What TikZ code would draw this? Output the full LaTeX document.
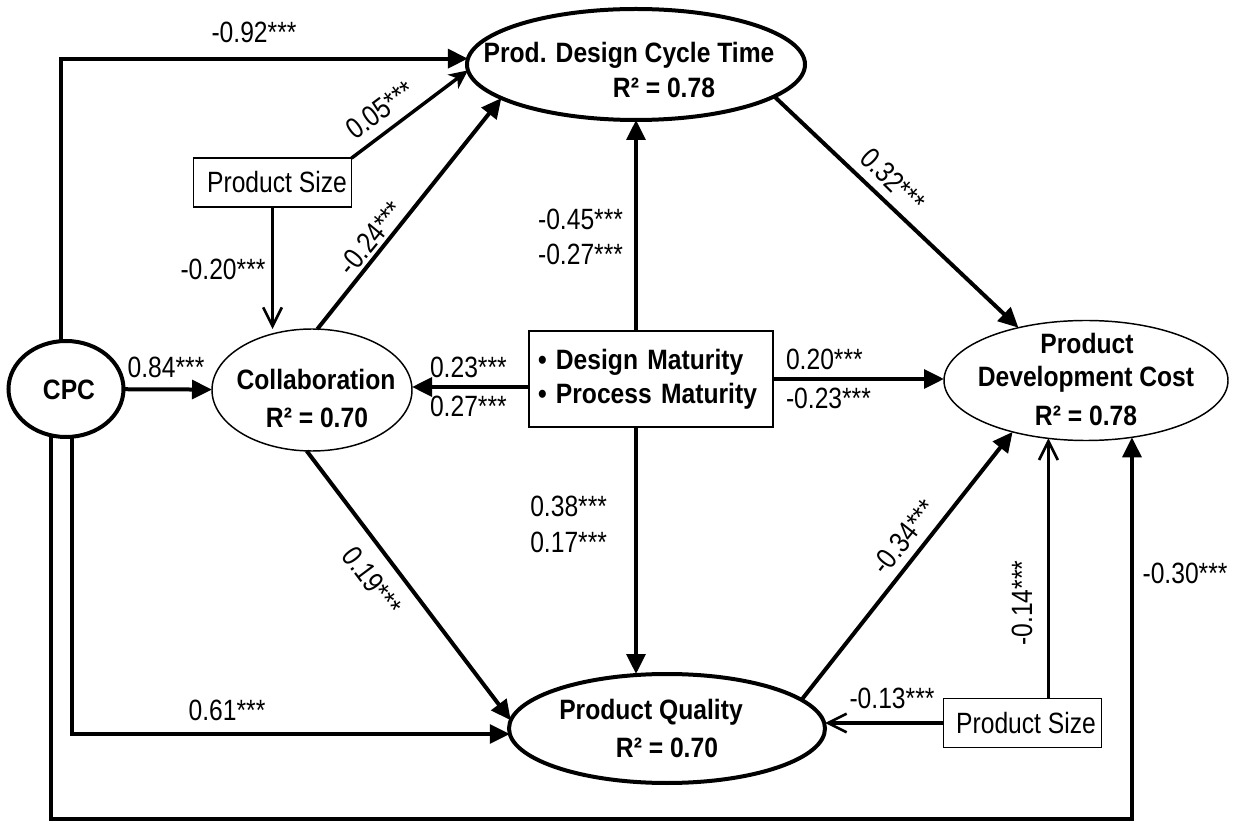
\documentclass[tikz,border=0pt]{standalone}
\usepackage{fontspec}
\setmainfont{Liberation Sans}[FakeStretch=0.84]
\newfontfamily\bfont{Liberation Sans}[FakeStretch=0.88]
\usetikzlibrary{arrows.meta,shapes.geometric,calc}
\begin{document}
\begin{tikzpicture}[x=0.75pt,y=-0.75pt,
  every node/.style={inner sep=0pt, outer sep=0pt},
  lbl/.style={font=\fontsize{22}{26}\selectfont},
  bt/.style={font=\bfont\bfseries\fontsize{21}{25.5}\selectfont},
  thickell/.style={ellipse, draw, line width=3pt},
  thinell/.style={ellipse, draw, line width=1.1pt},
  psbox/.style={rectangle, draw, line width=1.1pt, minimum width=118.5pt, minimum height=36.5pt, font=\fontsize{22}{26}\selectfont},
  arr/.style={line width=3pt, -{Triangle[length=15pt,width=14pt]}},
  stl/.style={line width=2.6pt, -{Stealth[length=14pt,width=13pt,inset=4pt]}},
  barb/.style={line width=2.6pt, -{Straight Barb[length=14pt,width=14pt,line width=2pt]}},
]
\fill[white] (0,0) rectangle (1236,823);
\useasboundingbox (0,0) rectangle (1236,823);

% ellipses
\node[thickell, minimum width=86.25pt, minimum height=72pt] (cpc) at (66,389) {};
\node[thinell, minimum width=150pt, minimum height=91.5pt] (collab) at (312,390) {};
\node[thickell, minimum width=253.5pt, minimum height=83.25pt] (pdct) at (636,64.5) {};
\node[thinell, minimum width=213pt, minimum height=90pt] (pdc) at (1086,380.5) {};
\node[thickell, minimum width=237pt, minimum height=81.75pt] (pq) at (667,728.5) {};

% boxes
\node[draw, line width=1.5pt, minimum width=183pt, minimum height=72pt, text width=169.5pt, align=left, bt] (dm) at (651,379) {• Design Maturity\\• Process Maturity};
\node[psbox] (ps1) at (272.5,182.5) {\hspace*{6.75pt}Product Size};
\node[psbox] (ps2) at (1022.5,723) {\hspace*{5.25pt}Product Size};

% texts in ellipses
\node[bt, anchor=base] (cpcT) at (69,400) {CPC};
\node[bt, anchor=base] (colT1) at (316,390) {Collaboration};
\node[bt, anchor=base] (colT2) at (317,428) {R² = 0.70};
\node[bt, anchor=base] (pdctT1) at (629,63) {Prod. Design Cycle Time};
\node[bt, anchor=base] (pdctT2) at (664,98) {R² = 0.78};
\node[bt, anchor=base] (pdcT1) at (1087,354) {Product};
\node[bt, anchor=base] (pdcT2) at (1086,387) {Development Cost};
\node[bt, anchor=base] (pdcT3) at (1086,426) {R² = 0.78};
\node[bt, anchor=base] (pqT1) at (651,719) {Product Quality};
\node[bt, anchor=base] (pqT2) at (667,757) {R² = 0.70};

% connectors
\coordinate (botY) at (0,819);
\coordinate (dmL) at ($(dm.west)+(0,8)$);
\draw[arr] (cpc.96) |- (pdct.178.5);
\draw[stl] (ps1.north east) -- (pdct.182.5);
\draw[barb] (ps1.south) -- (ps1.south |- collab.north);
\draw[arr] (collab.85.3) -- (pdct.194.6);
\draw[arr] (cpc) -- (collab);
\draw[arr] (dmL) -- (dmL -| collab.east);
\draw[arr] (pdct.south |- dm.north) -- (pdct.south);
\draw[arr] (pdct.south |- dm.south) -- (pdct.south |- pq.north);
\draw[arr] (dm.east) -- (dm.east -| pdc.west);
\draw[arr] (pdct.347.5) -- (pdc.142.7);
\draw[arr] (collab.265.4) -- (pq.177);
\draw[arr] (pq.12.9) -- (pdc.215.7);
\draw[barb] (ps2.west) -- (ps2.west -| pq.east);
\draw[barb] (pdc.237.4 |- ps2.north) -- (pdc.237.4);
\draw[arr] (cpc.252) -- (cpc.252 |- botY) -- (pdc.309.7 |- botY) -- (pdc.309.7);
\draw[arr] (cpc.277) |- (pq.182.4);

% labels
\node[lbl, anchor=base] (l092) at (254,43) {-0.92***};
\node[lbl, anchor=base] (l084) at (166,378) {0.84***};
\node[lbl, anchor=base] (l020) at (223,280) {-0.20***};
\node[lbl, anchor=base west] (l023) at (430,378) {0.23***};
\node[lbl, anchor=base west] (l027a) at (430,417) {0.27***};
\node[lbl, anchor=base east] (l045) at (623,230) {-0.45***};
\node[lbl, anchor=base east] (l027b) at (623,265) {-0.27***};
\node[lbl, anchor=base east] (l038) at (607,517) {0.38***};
\node[lbl, anchor=base east] (l017) at (607,552) {0.17***};
\node[lbl, anchor=base west] (l020b) at (786,370) {0.20***};
\node[lbl, anchor=base west] (l023b) at (786,409) {-0.23***};
\node[lbl, anchor=base] (l061) at (227,720) {0.61***};
\node[lbl, anchor=base] (l013) at (892,708) {-0.13***};
\node[lbl, anchor=base] (l030) at (1185,583) {-0.30***};
\node[lbl, rotate=36.5] (l005) at (380,110) {0.05***};
\node[lbl, rotate=50.6] (l024) at (371,238) {-0.24***};
\node[lbl, rotate=-53.2] (l019) at (372,581) {0.19***};
\node[lbl, rotate=-44.6] (l032) at (893,180) {0.32***};
\node[lbl, rotate=51.6] (l034) at (904,537) {-0.34***};
\node[lbl, rotate=90] (l014) at (1022,603) {-0.14***};
\end{tikzpicture}
\end{document}
